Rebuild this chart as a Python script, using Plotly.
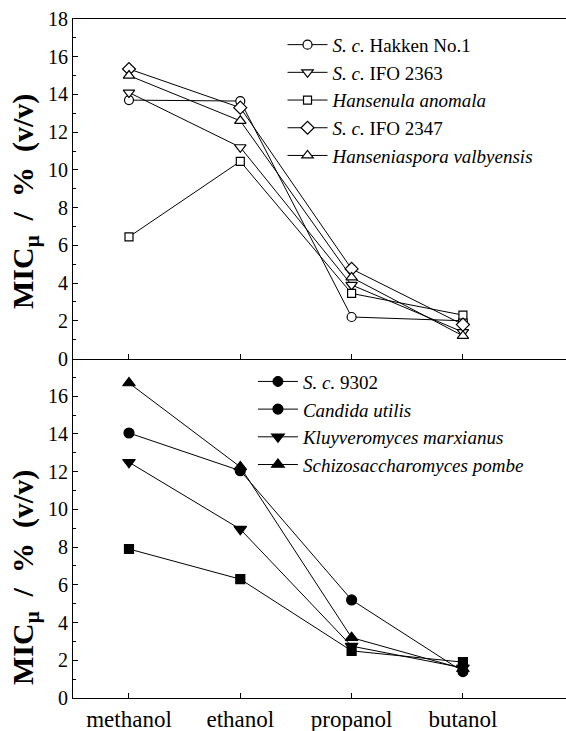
import plotly.graph_objects as go

# Alcohols tested (x categories)
alcohols = ["methanol", "ethanol", "propanol", "butanol"]

# Upper panel: MICμ, % (v/v)
sc_hakken = [13.7, 13.65, 2.2, 2.0]
sc_ifo2363 = [14.1, 11.2, 3.9, 1.4]
hansenula_anomala = [6.45, 10.45, 3.45, 2.3]
sc_ifo2347 = [15.35, 13.3, 4.75, 1.8]
hanseniaspora_valbyensis = [15.0, 12.6, 4.3, 1.2]

# Lower panel: MICμ, % (v/v)
sc_9302 = [7.9, 6.3, 2.5, 1.9]
candida_utilis = [14.05, 12.05, 5.2, 1.4]
kluyveromyces_marxianus = [12.5, 8.95, 2.75, 1.6]
schizosaccharomyces_pombe = [16.7, 12.25, 3.2, 1.55]

y_ticks_top = [0, 2, 4, 6, 8, 10, 12, 14, 16, 18]
y_ticks_bottom = [0, 2, 4, 6, 8, 10, 12, 14, 16]

SERIF = "Liberation Serif, Times New Roman, serif"
INK = "black"

fig = go.Figure()


def add_series(name, values, symbol, size, filled, xa, ya, legend, showlegend=True):
    fig.add_trace(go.Scatter(
        x=alcohols, y=values, name=name, mode="lines+markers",
        xaxis=xa, yaxis=ya, legend=legend, showlegend=showlegend,
        legendgroup=name,
        line=dict(color=INK, width=1),
        marker=dict(symbol=symbol, size=size,
                    color=INK if filled else "white",
                    line=dict(color=INK, width=1.2)),
    ))


# upper panel (open symbols)
add_series("<i>S. c.</i> Hakken No.1", sc_hakken, "circle", 9, False, "x2", "y2", "legend")
add_series("<i>S. c.</i> IFO 2363", sc_ifo2363, "triangle-down", 10, False, "x2", "y2", "legend")
add_series("<i>Hansenula anomala</i>", hansenula_anomala, "square", 8, False, "x2", "y2", "legend")
add_series("<i>S. c.</i> IFO 2347", sc_ifo2347, "diamond", 10, False, "x2", "y2", "legend")
add_series("<i>Hanseniaspora valbyensis</i>", hanseniaspora_valbyensis, "triangle-up", 10, False, "x2", "y2", "legend")

# lower panel (filled symbols); the legend key for S. c. 9302 is printed as a dot
add_series("<i>S. c.</i> 9302", sc_9302, "square", 9, True, "x", "y", "legend2", showlegend=False)
fig.add_trace(go.Scatter(
    x=[None], y=[None], name="<i>S. c.</i> 9302", mode="lines+markers",
    xaxis="x", yaxis="y", legend="legend2", legendgroup="<i>S. c.</i> 9302",
    line=dict(color=INK, width=1),
    marker=dict(symbol="circle", size=10, color=INK, line=dict(color=INK, width=1)),
))
add_series("<i>Candida utilis</i>", candida_utilis, "circle", 10, True, "x", "y", "legend2")
add_series("<i>Kluyveromyces marxianus</i>", kluyveromyces_marxianus, "triangle-down", 11, True, "x", "y", "legend2")
add_series("<i>Schizosaccharomyces pombe</i>", schizosaccharomyces_pombe, "triangle-up", 11, True, "x", "y", "legend2")

x_range = [-0.503, 3.926]
common_x = dict(
    type="category", categoryorder="array", categoryarray=alcohols,
    range=x_range, showline=True, linecolor=INK, linewidth=1,
    ticks="inside", ticklen=5, tickcolor=INK, tickwidth=1,
    showgrid=False, zeroline=False,
)
common_y = dict(
    range=[0, 18], showline=True, linecolor=INK, linewidth=1,
    ticks="inside", ticklen=5, tickcolor=INK, tickwidth=1,
    showgrid=False, zeroline=False,
    tickfont=dict(family=SERIF, size=20, color=INK),
    minor=dict(dtick=1, tick0=1, ticks="inside", ticklen=3, tickcolor=INK, tickwidth=1),
)

legend_common = dict(
    font=dict(family=SERIF, size=19, color=INK),
    bgcolor="rgba(0,0,0,0)", borderwidth=0,
    traceorder="grouped", tracegroupgap=0,
    itemwidth=40, xanchor="left", yanchor="top",
)

y_title = "<b>MIC<sub>μ</sub>  /  %  (v/v)</b>"

fig.update_layout(
    width=566, height=731,
    margin=dict(l=73, r=0, t=19, b=33),
    paper_bgcolor="white", plot_bgcolor="white",
    font=dict(family=SERIF, color=INK),
    xaxis=dict(common_x, anchor="y", domain=[0, 1],
               tickfont=dict(family=SERIF, size=23, color=INK)),
    yaxis=dict(common_y, anchor="x", domain=[0, 0.5], tickvals=y_ticks_bottom),
    xaxis2=dict(common_x, anchor="y2", domain=[0, 1], matches="x",
                showticklabels=False, mirror=True),
    yaxis2=dict(common_y, anchor="x2", domain=[0.5, 1], tickvals=y_ticks_top),
    legend=dict(legend_common, x=0.425, y=0.99),
    legend2=dict(legend_common, x=0.365, y=0.494),
    annotations=[
        dict(text=y_title, xref="paper", yref="paper",
             x=0, y=0.7305, xshift=-48, textangle=-90, showarrow=False,
             xanchor="center", yanchor="middle",
             font=dict(family=SERIF, size=30, color=INK)),
        dict(text=y_title, xref="paper", yref="paper",
             x=0, y=0.1767, xshift=-48, textangle=-90, showarrow=False,
             xanchor="center", yanchor="middle",
             font=dict(family=SERIF, size=30, color=INK)),
    ],
)

fig.write_html("out.html")
